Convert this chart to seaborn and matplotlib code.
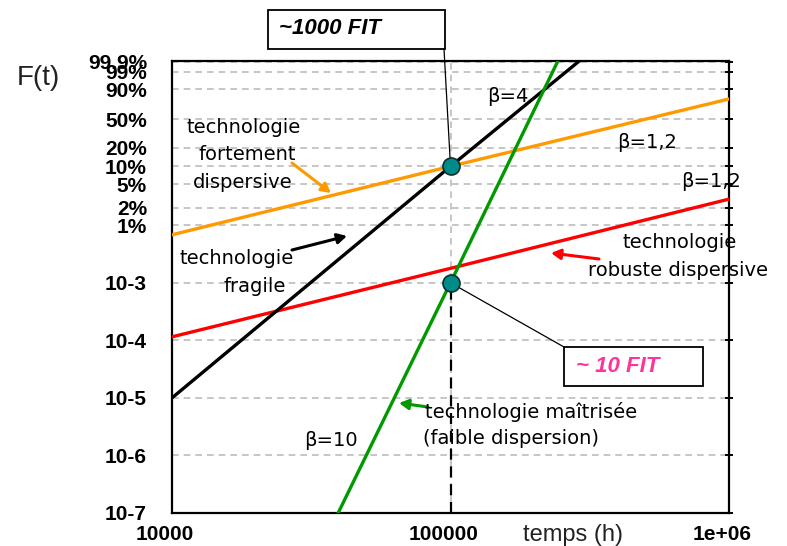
import numpy as np
import pandas as pd
import matplotlib
matplotlib.use("Agg")
import matplotlib.pyplot as plt
import seaborn as sns
from matplotlib.patches import Rectangle
from matplotlib.ticker import NullLocator
from matplotlib.transforms import ScaledTranslation

# Weibull lines: time (h) and cumulative failure fraction F(t) at the plot edges
t_fortement = [1e4, 1e5, 1e6]
F_fortement = [0.0068, 0.10, 0.79]
t_robuste = [1e4, 1e5, 1e6]
F_robuste = [1.15e-4, 1.78e-3, 0.028]
t_fragile = [1e4, 1e5, 2.9e5]
F_fragile = [1e-5, 0.10, 0.9992]
t_maitrisee = [3.95e4, 1e5, 2.43e5]
F_maitrisee = [1e-7, 1e-3, 0.9992]

# operating points at 100 000 h
t_points = [1e5, 1e5]
F_points = [0.10, 1e-3]

y_ticks = [1e-7, 1e-6, 1e-5, 1e-4, 1e-3, 0.01, 0.02, 0.05, 0.10, 0.20, 0.50, 0.90, 0.99, 0.999]
y_tick_labels = ["10-7", "10-6", "10-5", "10-4", "10-3", "1%", "2%", "5%", "10%",
                 "20%", "50%", "90%", "99%", "99.9%"]
x_ticks = [1e4, 1e5, 1e6]
x_tick_labels = ["10000", "100000", "1e+06"]

colors = {"fortement": "#ff9900", "robuste": "#ff0000",
          "fragile": "#000000", "maitrisee": "#009900"}

df = pd.concat([
    pd.DataFrame({"t": t_fortement, "F": F_fortement, "tech": "fortement"}),
    pd.DataFrame({"t": t_robuste, "F": F_robuste, "tech": "robuste"}),
    pd.DataFrame({"t": t_fragile, "F": F_fragile, "tech": "fragile"}),
    pd.DataFrame({"t": t_maitrisee, "F": F_maitrisee, "tech": "maitrisee"}),
], ignore_index=True)

sns.set_style("white")
plt.rcParams["font.family"] = ["Liberation Sans", "DejaVu Sans"]
plt.rcParams["text.color"] = "black"
plt.rcParams["xtick.color"] = "black"
plt.rcParams["ytick.color"] = "black"
plt.rcParams["axes.labelcolor"] = "black"

W, H = 787, 546
fig = plt.figure(figsize=(W / 100, H / 100), dpi=100)
ax = fig.add_axes([172 / W, 1 - 513 / H, (729 - 172) / W, (513 - 61) / H])


def px(x, y):
    return (x / W, 1 - y / H)


# Weibull probability scale: log10(-ln(1 - F))
def weib_fwd(F):
    F = np.clip(np.asarray(F, dtype=float), 1e-300, 1 - 1e-15)
    return np.log10(-np.log1p(-F))


def weib_inv(y):
    return -np.expm1(-np.power(10.0, np.asarray(y, dtype=float)))


sns.lineplot(data=df, x="t", y="F", hue="tech", palette=colors, estimator=None,
             sort=False, legend=False, lw=2.4, ax=ax, zorder=3)

ax.set_xscale("log")
ax.set_yscale("function", functions=(weib_fwd, weib_inv))
ax.set_xlim(1e4, 1e6)
ax.set_ylim(1e-7, 0.9992)

# dashed drop line from the 10 FIT point down to the time axis
ax.plot([1e5, 1e5], [1e-7, 1e-3], color="black", lw=1.6, ls=(0, (5, 3)), zorder=2)

sns.scatterplot(x=t_points, y=F_points, s=150, color="#008b8b", edgecolor="#0a3030",
                linewidth=1.2, zorder=6, ax=ax)

ax.set_xticks(x_ticks, x_tick_labels)
ax.set_yticks(y_ticks, y_tick_labels)
ax.xaxis.set_minor_locator(NullLocator())
ax.yaxis.set_minor_locator(NullLocator())
ax.set_xlabel("")
ax.set_ylabel("")

ax.grid(True, color="#bcbcbc", ls=(0, (4, 3)), lw=1.2, zorder=0)
ax.set_axisbelow(True)
for s in ax.spines.values():
    s.set_color("black")
    s.set_linewidth(1.6)
    s.set_visible(True)

ax.tick_params(axis="y", which="major", left=False, right=True, direction="inout",
               length=6, width=1.4, pad=15, labelsize=15, colors="black")
ax.tick_params(axis="x", which="major", bottom=False, length=0, pad=8.5, labelsize=15,
               colors="black")
for lab in ax.get_yticklabels() + ax.get_xticklabels():
    lab.set_fontweight("bold")
for lab in ax.get_xticklabels():
    lab.set_transform(lab.get_transform() + ScaledTranslation(-7 / 100, 0, fig.dpi_scale_trans))

# axis titles
fig.text(*px(38, 78), "F(t)", ha="center", va="center", fontsize=20, color="#222222")
fig.text(*px(573, 535), "temps (h)", ha="center", va="center", fontsize=17,
         color="#222222")

# annotation texts
note = dict(ha="center", va="center", fontsize=14, family="DejaVu Sans",
            color="black", zorder=7)
fig.text(*px(244, 127), "technologie", **note)
fig.text(*px(247, 154), "fortement", **note)
fig.text(*px(243, 183), "dispersive", **note)
fig.text(*px(237, 258), "technologie", **note)
fig.text(*px(255, 287), "fragile", **note)
fig.text(*px(680, 243), "technologie", **note)
fig.text(*px(678, 270), "robuste dispersive", **note)
fig.text(*px(425, 412), "technologie maîtrisée", ha="left", va="center", fontsize=14,
         family="DejaVu Sans", color="black", zorder=7)
fig.text(*px(423, 438), "(faible dispersion)", ha="left", va="center", fontsize=14,
         family="DejaVu Sans", color="black", zorder=7)
fig.text(*px(508, 97), "β=4", **note)
fig.text(*px(647, 143), "β=1,2", **note)
fig.text(*px(711, 182), "β=1,2", **note)
fig.text(*px(331, 440), "β=10", **note)


# pointer arrows
def arrow(x0, y0, x1, y1, color):
    ax.annotate("", xy=px(x1, y1), xycoords="figure fraction",
                xytext=px(x0, y0), textcoords="figure fraction",
                arrowprops=dict(arrowstyle="-|>,head_length=0.55,head_width=0.3",
                                color=color, lw=2.2, shrinkA=0, shrinkB=0),
                annotation_clip=False, zorder=7)


arrow(292, 163, 331, 193, colors["fortement"])
arrow(292, 250, 347, 236, colors["fragile"])
arrow(599, 259, 551, 253, colors["robuste"])
arrow(428, 407, 399, 403, colors["maitrisee"])

# FIT boxes with leader lines
fig.add_artist(Rectangle(px(268, 49), 177 / W, 39 / H, transform=fig.transFigure,
                         facecolor="white", edgecolor="black", lw=1.3))
fig.text(*px(279, 29), "~1000 FIT", ha="left", va="center", fontsize=16,
         fontweight="bold", fontstyle="italic", color="black")
fig.add_artist(Rectangle(px(564, 386), 139 / W, 39 / H, transform=fig.transFigure,
                         facecolor="white", edgecolor="black", lw=1.3, zorder=8))
fig.text(*px(576, 366), "~ 10 FIT", ha="left", va="center", fontsize=16,
         fontweight="bold", fontstyle="italic", color="#ff3399", zorder=9)

ax.annotate("", xy=(1e5, 0.10), xycoords="data", xytext=px(444, 49),
            textcoords="figure fraction",
            arrowprops=dict(arrowstyle="-", lw=0.9, color="black", shrinkA=0, shrinkB=0),
            annotation_clip=False, zorder=5)
ax.annotate("", xy=(1e5, 1e-3), xycoords="data", xytext=px(564, 347),
            textcoords="figure fraction",
            arrowprops=dict(arrowstyle="-", lw=0.9, color="black", shrinkA=0, shrinkB=0),
            annotation_clip=False, zorder=5)

fig.savefig("out.png", dpi=100)
